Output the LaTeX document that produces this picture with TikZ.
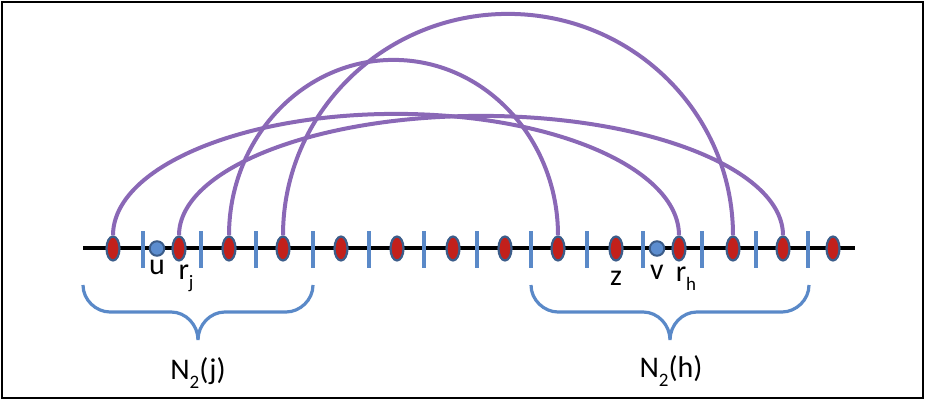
\documentclass[tikz,border=0pt]{standalone}
\usepackage{fontspec}
\setmainfont{Carlito}
\usetikzlibrary{shapes.geometric,calc}
\definecolor{arcpurple}{HTML}{8A68B6}
\definecolor{tickblue}{HTML}{5A89C8}
\definecolor{dotred}{HTML}{C2201B}
\definecolor{dotedge}{HTML}{3C5D8A}
\definecolor{dotblue}{HTML}{5C8DCF}
\newcommand\mysub[1]{\raisebox{-9pt}{\fontsize{19}{19}\selectfont #1}}
\begin{document}
\begin{tikzpicture}[x=1pt,y=1pt,
  redpt/.style={ellipse, draw=dotedge, line width=2.2pt, fill=dotred, minimum width=13pt, minimum height=24pt, inner sep=0pt},
  bluept/.style={circle, draw=dotedge, line width=2pt, fill=dotblue, minimum size=14.5pt, inner sep=0pt},
  vtick/.style={draw=tickblue, line width=4pt},
  baseline/.style={draw=black, line width=4pt},
  arcline/.style={draw=arcpurple, line width=4pt},
  bracket/.style={draw=tickblue, line width=3.2pt},
  lbl/.style={anchor=base, inner sep=0pt, font=\fontsize{30}{36}\selectfont},
  hump/.style={to path={.. controls +(0,0.5523*#1) and ($(\tikztostart)!0.22385!(\tikztotarget)+(0,#1)$) .. ($(\tikztostart)!0.5!(\tikztotarget)+(0,#1)$) .. controls ($(\tikztostart)!0.77615!(\tikztotarget)+(0,#1)$) and +(0,0.5523*#1) .. (\tikztotarget)}}
]
\useasboundingbox (0,0) rectangle (925,401);
\draw[line width=2.5pt] (2,3) rectangle (923,399);

% main line
\draw[baseline] (83,152.5) -- (855,152.5);

% ticks
\foreach \x in {143,201,256,313,369,424,477,531,587,643,702,756,808}
  \draw[vtick] (\x,133) -- (\x,170);

% points
\foreach \x [count=\i] in {113,179,229,283,341,397,453,505,558,616,679,733,783,833}
  \node[redpt] (e\i) at (\x,152.5) {};
\node[bluept] (cu) at (157,152.5) {};
\node[bluept] (cv) at (657,152.5) {};

% arcs
\draw[arcline] (e1.north) to[hump=121.5] (e11.north);
\draw[arcline] (e2.north) to[hump=119.5] (e13.north);
\draw[arcline] (e3.north) to[hump=175.5] (e9.north);
\draw[arcline] (e4.north) to[hump=221.5] (e12.north);

% labels
\node[lbl] (lu) at (157,126) {u};
\node[lbl] (lrj) at (186,121) {r\mysub{j}};
\node[lbl] (lz) at (616,115) {z};
\node[lbl] (lv) at (657,121) {v};
\node[lbl] (lrh) at (686,119) {r\mysub{h}};

% braces
\draw[bracket] (83,116) .. controls (83,101) and (96,89) .. (110,89) -- (171,89)
  .. controls (186,89) and (198,76) .. (198,61)
  .. controls (198,76) and (210,89) .. (225,89) -- (286,89)
  .. controls (300,89) and (313,101) .. (313,116);
\draw[bracket] (531,116) .. controls (531,101) and (544,89) .. (558,89) -- (643,89)
  .. controls (658,89) and (670,76) .. (670,61)
  .. controls (670,76) and (682,89) .. (697,89) -- (782,89)
  .. controls (796,89) and (809,101) .. (809,116);

\node[lbl] (nj) at (198,21) {N\mysub{2}(j)};
\node[lbl] (nh) at (671,23) {N\mysub{2}(h)};
\end{tikzpicture}
\end{document}
